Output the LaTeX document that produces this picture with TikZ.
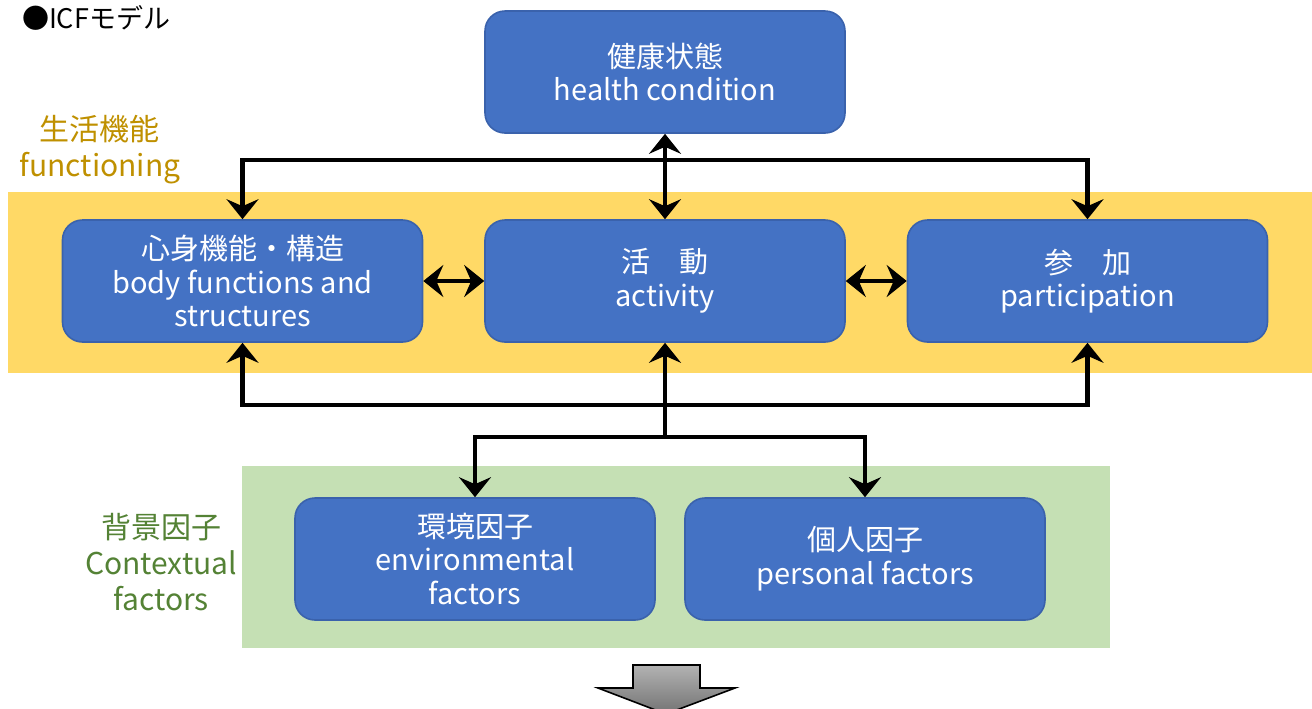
\documentclass[tikz,border=0pt]{standalone}
\usepackage{fontspec}
\setmainfont{Noto Sans CJK JP}
\usetikzlibrary{arrows.meta}
\definecolor{boxblue}{HTML}{4472C4}
\definecolor{boxedge}{HTML}{3A62AC}
\definecolor{bandyellow}{HTML}{FFD966}
\definecolor{bandgreen}{HTML}{C5E0B4}
\definecolor{labgold}{HTML}{BF9000}
\definecolor{labgreen}{HTML}{548235}
\begin{document}
\begin{tikzpicture}[x=0.5pt,y=-0.5pt,
  bluebox/.style={draw=boxedge,line width=0.8pt,fill=boxblue,rounded corners=10pt,
    minimum width=180pt,minimum height=61pt,text=white,align=center,
    font=\fontsize{14.5}{16.8}\selectfont},
  sidelabel/.style={align=center,font=\fontsize{15}{18}\selectfont},
  conn/.style={line width=2.3pt,line join=miter},
  tip/.tip={Stealth[length=10pt,width=16pt,inset=3.5pt]}]
\useasboundingbox (0,0) rectangle (1312,708);
\clip (0,0) rectangle (1312,708);
% bands
\fill[bandyellow] (8,192) rectangle (1312,373);
\fill[bandgreen] (242,466) rectangle (1110,648);
% title
\node[anchor=west,font=\fontsize{13.5}{15}\selectfont] (title) at (15,18) {●ICFモデル};
% side labels
\node[sidelabel,text=labgold] (funclab) at (100,150) {生活機能\\functioning};
\node[sidelabel,text=labgreen] (ctxlab) at (161,562) {背景因子\\Contextual\\factors};
% boxes
\node[bluebox] (hc) at (665,72) {健康状態\\health condition};
\node[bluebox] (body) at (242.5,281) {心身機能・構造\\body functions and\\structures};
\node[bluebox] (act) at (665,281) {活　動\\activity};
\node[bluebox] (part) at (1087.5,281) {参　加\\participation};
\node[bluebox] (env) at (475,559) {環境因子\\environmental\\factors};
\node[bluebox] (pers) at (865,559) {個人因子\\personal factors};
% connectors
\coordinate (tb) at (665,160);
\coordinate (bb) at (665,405);
\coordinate (bj) at (665,437);
\draw[conn,{tip}-{tip}] (body.north) |- (tb) -| (part.north);
\draw[conn,{tip}-{tip}] (hc.south) -- (act.north);
\draw[conn,{tip}-{tip}] (body.east) -- (act.west);
\draw[conn,{tip}-{tip}] (act.east) -- (part.west);
\draw[conn,{tip}-{tip}] (body.south) |- (bb) -| (part.south);
\draw[conn,-{tip}] (bj) -- (act.south);
\draw[conn,{tip}-{tip}] (env.north) |- (bj) -| (pers.north);
% bottom gray arrow
\shade[top color=gray!60,bottom color=gray!90!black,draw=black,line width=0.8pt]
  (633,665) -- (700,665) -- (700,688) -- (735,688) -- (666,714) -- (598,688) -- (633,688) -- cycle;
\end{tikzpicture}
\end{document}
